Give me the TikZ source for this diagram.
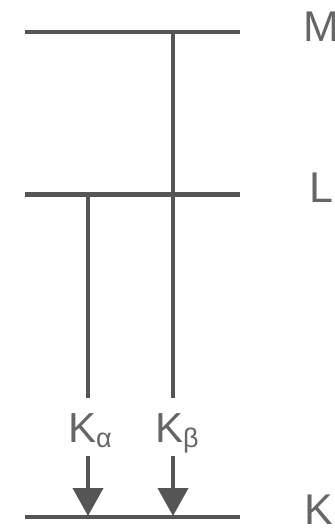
\documentclass[tikz,border=0pt]{standalone}
\usepackage{fontspec}
\setmainfont{Liberation Sans}
\usetikzlibrary{arrows.meta}
\definecolor{lvl}{HTML}{555555}
\definecolor{lbl}{HTML}{666666}
\begin{document}
\begin{tikzpicture}[x=1pt,y=-1pt,
  level/.style={draw=lvl,line width=4.5pt},
  trans/.style={draw=lvl,line width=4pt},
  tarrow/.style={draw=lvl,line width=4pt,-{Triangle[width=30pt,length=28pt]}},
  lvllabel/.style={text=lbl,font=\fontsize{43}{43}\selectfont,anchor=base west,inner sep=0pt},
  klabel/.style={text=lbl,font=\fontsize{42}{42}\selectfont,anchor=base west,inner sep=0pt}]
\useasboundingbox (0,0) rectangle (334,529);
% level ends
\coordinate (M1) at (25,32); \coordinate (M2) at (240,32);
\coordinate (L1) at (25,194.5); \coordinate (L2) at (240,194.5);
\coordinate (K1) at (25,517); \coordinate (K2) at (240,517);
\draw[level] (M1) -- (M2);
\draw[level] (L1) -- (L2);
\draw[level] (K1) -- (K2);
% transitions
\coordinate (aTop) at (88,194.5); \coordinate (aMid) at (88,398);
\coordinate (aLow) at (88,456); \coordinate (aEnd) at (88,516);
\coordinate (bTop) at (173,32); \coordinate (bMid) at (173,398);
\coordinate (bLow) at (173,456); \coordinate (bEnd) at (173,516);
\draw[trans] (aTop) -- (aMid);
\draw[trans] (bTop) -- (bMid);
\draw[tarrow] (aLow) -- (aEnd);
\draw[tarrow] (bLow) -- (bEnd);
% labels
\node[klabel] (ka) at (68,442) {K\raisebox{-0.25ex}{\fontsize{27}{27}\selectfont α}};
\node[klabel] (kb) at (155,442) {K\raisebox{-0.25ex}{\fontsize{27}{27}\selectfont β}};
\node[lvllabel] (lM) at (303,42) {M};
\node[lvllabel] (lL) at (309,202) {L};
\node[lvllabel] (lK) at (304,524) {K};
\end{tikzpicture}
\end{document}
